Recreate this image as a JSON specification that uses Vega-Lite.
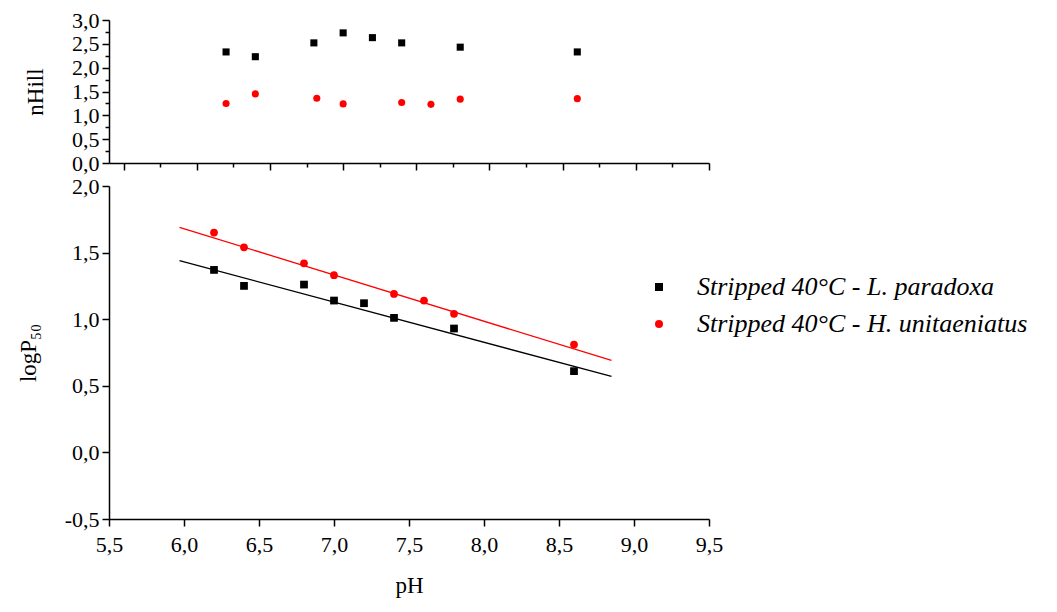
{
  "$schema": "https://vega.github.io/schema/vega-lite/v6.json",
  "background": "white",
  "padding": {"left": 17, "top": 9, "right": 5, "bottom": 5},
  "config": {
    "font": "Liberation Serif",
    "view": {"stroke": null},
    "axis": {
      "domainColor": "black", "domainWidth": 1.5, "tickColor": "black", "tickWidth": 1.5,
      "labelColor": "black", "titleColor": "black", "labelFont": "Liberation Serif", "titleFont": "Liberation Serif",
      "labelFontSize": 22, "titleFontSize": 23, "titleFontWeight": "normal", "grid": false, "labelFlush": false, "labelOverlap": false
    },
    "legend": {"labelFont": "Liberation Serif"}
  },
  "datasets": {
    "hill": [
      {"pH": 6.2, "n": 2.33, "series": "Stripped 40°C - L. paradoxa"},
      {"pH": 6.4, "n": 2.23, "series": "Stripped 40°C - L. paradoxa"},
      {"pH": 6.8, "n": 2.52, "series": "Stripped 40°C - L. paradoxa"},
      {"pH": 7.0, "n": 2.73, "series": "Stripped 40°C - L. paradoxa"},
      {"pH": 7.2, "n": 2.63, "series": "Stripped 40°C - L. paradoxa"},
      {"pH": 7.4, "n": 2.52, "series": "Stripped 40°C - L. paradoxa"},
      {"pH": 7.8, "n": 2.43, "series": "Stripped 40°C - L. paradoxa"},
      {"pH": 8.6, "n": 2.33, "series": "Stripped 40°C - L. paradoxa"},
      {"pH": 6.2, "n": 1.25, "series": "Stripped 40°C - H. unitaeniatus"},
      {"pH": 6.4, "n": 1.45, "series": "Stripped 40°C - H. unitaeniatus"},
      {"pH": 6.82, "n": 1.36, "series": "Stripped 40°C - H. unitaeniatus"},
      {"pH": 7.0, "n": 1.24, "series": "Stripped 40°C - H. unitaeniatus"},
      {"pH": 7.4, "n": 1.27, "series": "Stripped 40°C - H. unitaeniatus"},
      {"pH": 7.6, "n": 1.23, "series": "Stripped 40°C - H. unitaeniatus"},
      {"pH": 7.8, "n": 1.34, "series": "Stripped 40°C - H. unitaeniatus"},
      {"pH": 8.6, "n": 1.35, "series": "Stripped 40°C - H. unitaeniatus"}
    ],
    "p50": [
      {"pH": 6.2, "logP50": 1.37, "series": "Stripped 40°C - L. paradoxa"},
      {"pH": 6.4, "logP50": 1.25, "series": "Stripped 40°C - L. paradoxa"},
      {"pH": 6.8, "logP50": 1.26, "series": "Stripped 40°C - L. paradoxa"},
      {"pH": 7.0, "logP50": 1.14, "series": "Stripped 40°C - L. paradoxa"},
      {"pH": 7.2, "logP50": 1.12, "series": "Stripped 40°C - L. paradoxa"},
      {"pH": 7.4, "logP50": 1.01, "series": "Stripped 40°C - L. paradoxa"},
      {"pH": 7.8, "logP50": 0.93, "series": "Stripped 40°C - L. paradoxa"},
      {"pH": 8.6, "logP50": 0.61, "series": "Stripped 40°C - L. paradoxa"},
      {"pH": 6.2, "logP50": 1.65, "series": "Stripped 40°C - H. unitaeniatus"},
      {"pH": 6.4, "logP50": 1.54, "series": "Stripped 40°C - H. unitaeniatus"},
      {"pH": 6.8, "logP50": 1.42, "series": "Stripped 40°C - H. unitaeniatus"},
      {"pH": 7.0, "logP50": 1.33, "series": "Stripped 40°C - H. unitaeniatus"},
      {"pH": 7.4, "logP50": 1.19, "series": "Stripped 40°C - H. unitaeniatus"},
      {"pH": 7.6, "logP50": 1.14, "series": "Stripped 40°C - H. unitaeniatus"},
      {"pH": 7.8, "logP50": 1.04, "series": "Stripped 40°C - H. unitaeniatus"},
      {"pH": 8.6, "logP50": 0.81, "series": "Stripped 40°C - H. unitaeniatus"}
    ],
    "fit": [
      {"pH": 5.97, "logP50": 1.44, "series": "Stripped 40°C - L. paradoxa"},
      {"pH": 8.85, "logP50": 0.57, "series": "Stripped 40°C - L. paradoxa"},
      {"pH": 5.97, "logP50": 1.69, "series": "Stripped 40°C - H. unitaeniatus"},
      {"pH": 8.85, "logP50": 0.69, "series": "Stripped 40°C - H. unitaeniatus"}
    ]
  },
  "bounds": "flush",
  "spacing": 23,
  "resolve": {"scale": {"color": "independent", "shape": "independent", "x": "independent", "y": "independent"}},
  "vconcat": [
    {
      "width": 600,
      "height": 143,
      "data": {"name": "hill"},
      "mark": {"type": "point", "filled": true, "opacity": 1, "size": 50},
      "encoding": {
        "x": {"field": "pH", "type": "quantitative",
          "scale": {"domain": [5.4, 9.5], "nice": false, "zero": false},
          "axis": {"title": null, "labels": false,
            "values": [5.5, 5.75, 6.0, 6.25, 6.5, 6.75, 7.0, 7.25, 7.5, 7.75, 8.0, 8.25, 8.5, 8.75, 9.0, 9.25, 9.5],
            "tickSize": {"condition": {"test": "abs(datum.value*2-round(datum.value*2))<0.001", "value": 7}, "value": 4}}},
        "y": {"field": "n", "type": "quantitative",
          "scale": {"domain": [0, 3], "nice": false, "zero": false},
          "axis": {"title": "nHill", "titlePadding": 24, "labelPadding": 3, "labelFont": "Liberation Serif", "titleFont": "Liberation Serif",
            "values": [0, 0.25, 0.5, 0.75, 1, 1.25, 1.5, 1.75, 2, 2.25, 2.5, 2.75, 3],
            "tickSize": {"condition": {"test": "abs(datum.value*2-round(datum.value*2))<0.001", "value": 7}, "value": 4},
            "labelExpr": "abs(datum.value*2-round(datum.value*2))<0.001 ? replace(replace(format(datum.value,'.1f'),'.',','),'\u2212','-') : ''"}},
        "color": {"field": "series", "type": "nominal",
          "scale": {"domain": ["Stripped 40°C - L. paradoxa", "Stripped 40°C - H. unitaeniatus"], "range": ["black", "#ff0000"]}, "legend": null},
        "shape": {"field": "series", "type": "nominal",
          "scale": {"domain": ["Stripped 40°C - L. paradoxa", "Stripped 40°C - H. unitaeniatus"], "range": ["square", "circle"]}, "legend": null}
      }
    },
    {
      "width": 600,
      "height": 333,
      "layer": [
        {
          "data": {"name": "fit"},
          "mark": {"type": "line", "strokeWidth": 1.3},
          "encoding": {
            "x": {"field": "pH", "type": "quantitative"},
            "y": {"field": "logP50", "type": "quantitative"},
            "stroke": {"field": "series", "type": "nominal",
              "scale": {"domain": ["Stripped 40°C - L. paradoxa", "Stripped 40°C - H. unitaeniatus"], "range": ["black", "#ff0000"]}, "legend": null}
          }
        },
        {
          "data": {"name": "p50"},
          "mark": {"type": "point", "filled": true, "opacity": 1, "size": 60},
          "encoding": {
            "x": {"field": "pH", "type": "quantitative",
              "scale": {"domain": [5.5, 9.5], "nice": false, "zero": false},
              "axis": {"title": "pH", "titlePadding": 19, "labelPadding": 8, "labelFont": "Liberation Serif", "titleFont": "Liberation Serif",
                "values": [5.5, 5.75, 6.0, 6.25, 6.5, 6.75, 7.0, 7.25, 7.5, 7.75, 8.0, 8.25, 8.5, 8.75, 9.0, 9.25, 9.5],
                "tickSize": {"condition": {"test": "abs(datum.value*2-round(datum.value*2))<0.001", "value": 7}, "value": 4},
                "labelExpr": "abs(datum.value*2-round(datum.value*2))<0.001 ? replace(replace(format(datum.value,'.1f'),'.',','),'\u2212','-') : ''"}},
            "y": {"field": "logP50", "type": "quantitative",
              "scale": {"domain": [-0.5, 2.0], "nice": false, "zero": false},
              "axis": {"title": "logP₅₀", "titlePadding": 24, "labelPadding": 3, "labelFont": "Liberation Serif", "titleFont": "Liberation Serif",
                "values": [-0.5, -0.25, 0, 0.25, 0.5, 0.75, 1, 1.25, 1.5, 1.75, 2],
                "tickSize": {"condition": {"test": "abs(datum.value*2-round(datum.value*2))<0.001", "value": 7}, "value": 4},
                "labelExpr": "abs(datum.value*2-round(datum.value*2))<0.001 ? replace(replace(format(datum.value,'.1f'),'.',','),'\u2212','-') : ''"}},
            "color": {"field": "series", "type": "nominal",
              "scale": {"domain": ["Stripped 40°C - L. paradoxa", "Stripped 40°C - H. unitaeniatus"], "range": ["black", "#ff0000"]},
              "legend": {"title": null, "orient": "none", "legendX": 537, "legendY": 88, "padding": 0,
                "labelFontSize": 26, "labelFontStyle": "italic", "labelFont": "Liberation Serif", "labelColor": "black",
                "labelOffset": 25, "symbolSize": 64, "rowPadding": 11, "labelLimit": 600}},
            "shape": {"field": "series", "type": "nominal",
              "scale": {"domain": ["Stripped 40°C - L. paradoxa", "Stripped 40°C - H. unitaeniatus"], "range": ["square", "circle"]}}
          }
        }
      ]
    }
  ]
}
